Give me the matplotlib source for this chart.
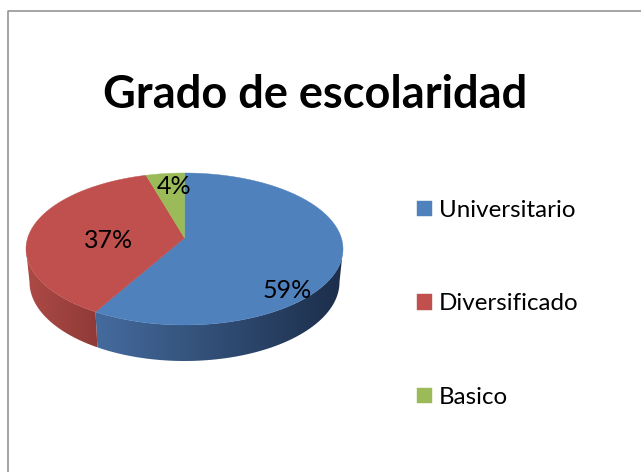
import numpy as np
import matplotlib
matplotlib.use('Agg')
import matplotlib.pyplot as plt
from matplotlib.patches import Polygon

plt.rcParams['font.family'] = ['Lato', 'DejaVu Sans']

TITLE = 'Grado de escolaridad'
CATEGORIES = ['Universitario', 'Diversificado', 'Basico']
VALUES = [59.49, 36.61, 3.9]
COLORS = ['#4F81BD', '#C0504D', '#9BBB59']

# wall colours, left end and right end of the gradient
WALL_LEFT = {0: (0.27, 0.42, 0.62), 1: (0.68, 0.29, 0.27)}
WALL_RIGHT = {0: (0.11, 0.18, 0.29), 1: (0.56, 0.23, 0.22)}

CX, CY, RX, RY = 184.5, 249, 158.5, 76
APEX_Y = 238
BOT_CY, BOT_RX, BOT_RY = 282, 155, 79


def top_arc(a, b):
    t = np.radians(np.linspace(a, b, 200))
    return CX + RX * np.sin(t), CY - RY * np.cos(t)


def bottom_arc(a, b):
    t = np.radians(np.linspace(a, b, 200))
    return CX + BOT_RX * np.sin(t), BOT_CY - BOT_RY * np.cos(t)


fig = plt.figure(figsize=(6.41, 4.72), dpi=100)
ax = fig.add_axes([0, 0, 1, 1])
ax.set_xlim(0, 641)
ax.set_ylim(472, 0)
ax.axis('off')

# frame, only top and left are in the picture
ax.plot([7.5, 7.5, 641], [472, 10.5, 10.5], color='#8C8C8C', linewidth=1.1)

edges = np.concatenate([[0], np.cumsum(VALUES)]) / sum(VALUES) * 360

# side walls, only the front half of the pie shows
for i in range(len(VALUES)):
    a = max(edges[i], 90)
    b = min(edges[i + 1], 270)
    if b <= a:
        continue
    x1, y1 = top_arc(a, b)
    x2, y2 = bottom_arc(a, b)
    poly = Polygon(np.column_stack([np.r_[x1, x2[::-1]], np.r_[y1, y2[::-1]]]),
                   closed=True, facecolor='none', edgecolor='none')
    ax.add_patch(poly)
    left = np.array(WALL_LEFT[i])
    right = np.array(WALL_RIGHT[i])
    f = np.linspace(0, 1, 256)[None, :, None]
    grad = left[None, None, :] * (1 - f) + right[None, None, :] * f
    im = ax.imshow(grad, extent=[min(x1.min(), x2.min()), max(x1.max(), x2.max()), y2.max(), y1.min()],
                   aspect='auto', zorder=2)
    im.set_clip_path(poly)

ax.set_xlim(0, 641)
ax.set_ylim(472, 0)

# top face
handles = []
for i in range(len(VALUES)):
    x, y = top_arc(edges[i], edges[i + 1])
    h = ax.fill(np.r_[CX, x], np.r_[APEX_Y, y], color=COLORS[i], linewidth=0.3, zorder=3,
                label=CATEGORIES[i])[0]
    handles.append(h)

# percentage labels
label_pos = [(287, 290), (109, 240), (174, 186)]
for v, (lx, ly) in zip(VALUES, label_pos):
    ax.text(lx, ly, '%.0f%%' % v, fontsize=18, color='black', ha='center', va='center', zorder=4)

ax.text(315, 95, TITLE, fontsize=32.5, fontweight='bold', color='black', ha='center', va='center')

leg = ax.legend(handles=handles, loc='upper left', bbox_to_anchor=(417 / 641, 1 - 200 / 472),
                frameon=False, fontsize=17.4, handlelength=0.62, handleheight=0.62,
                handletextpad=0.3, labelspacing=3.0, borderpad=0, borderaxespad=0)

fig.savefig('out.png', dpi=100)
